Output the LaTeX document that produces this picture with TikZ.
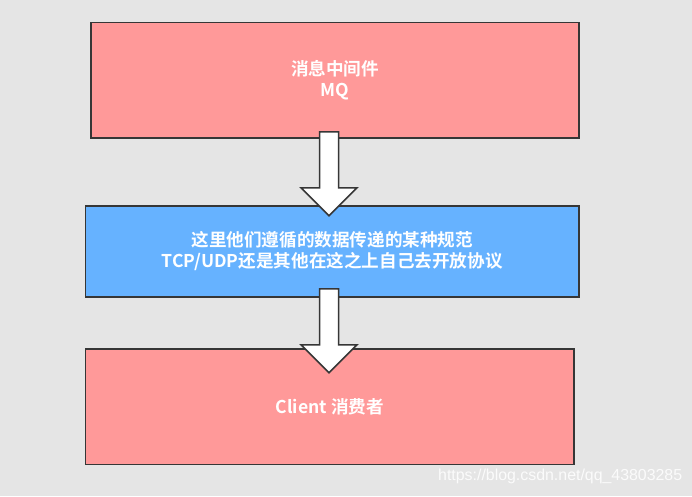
\documentclass[tikz,border=0pt]{standalone}
\usepackage{fontspec}
\usetikzlibrary{calc}
\newfontfamily\cjk{Noto Sans CJK SC}[BoldFont={Noto Sans CJK SC Bold}]
\newfontfamily\wmfont{Liberation Sans}
\definecolor{bg}{HTML}{E5E5E5}
\definecolor{pinkbox}{HTML}{FF9999}
\definecolor{bluebox}{HTML}{66B2FF}
\definecolor{edge}{HTML}{363636}
\begin{document}
\begin{tikzpicture}[x=1pt,y=-1pt,
  box/.style={draw=edge, line width=1.5pt, text=white, inner sep=0pt, align=center,
    font=\cjk\bfseries\fontsize{17.6}{21}\selectfont},
  blockarrow/.style={draw=edge, fill=white, line width=1.5pt, line join=miter},
  watermark/.style={text=white, opacity=0.85, inner sep=0pt, anchor=west,
    font=\wmfont\fontsize{15.9}{18}\selectfont}]
\fill[bg] (0,0) rectangle (692,496);
\useasboundingbox (0,0) rectangle (692,496);
\node[box, fill=pinkbox, minimum width=488pt, minimum height=115.5pt] (mq) at (335,80.25) {消息中间件\\MQ};
\node[box, fill=bluebox, minimum width=493.5pt, minimum height=91pt] (proto) at (332.25,251.5)
  {这里他们遵循的数据传递的某种规范\\TCP/UDP还是其他在这之上自己去开放协议};
\node[box, fill=pinkbox, minimum width=488.5pt, minimum height=115.5pt] (client) at (329.75,406.5) {Client 消费者};
% block arrows
\coordinate (s1) at ($(mq.south)+(-6,-7)$);
\coordinate (s2) at ($(proto.south)+(-3.25,-9)$);
\path[blockarrow] (s1) ++(-9.5,0) -- ++(0,56) -- ++(-18.5,0) -- ++(28,28) -- ++(28,-28) -- ++(-18.5,0) -- ++(0,-56) -- cycle;
\path[blockarrow] (s2) ++(-9.5,0) -- ++(0,56) -- ++(-18.5,0) -- ++(28,28) -- ++(28,-28) -- ++(-18.5,0) -- ++(0,-56) -- cycle;
\node[watermark] (wm) at (438,476.5) {https://blog.csdn.net/qq\_43803285};
\end{tikzpicture}
\end{document}
